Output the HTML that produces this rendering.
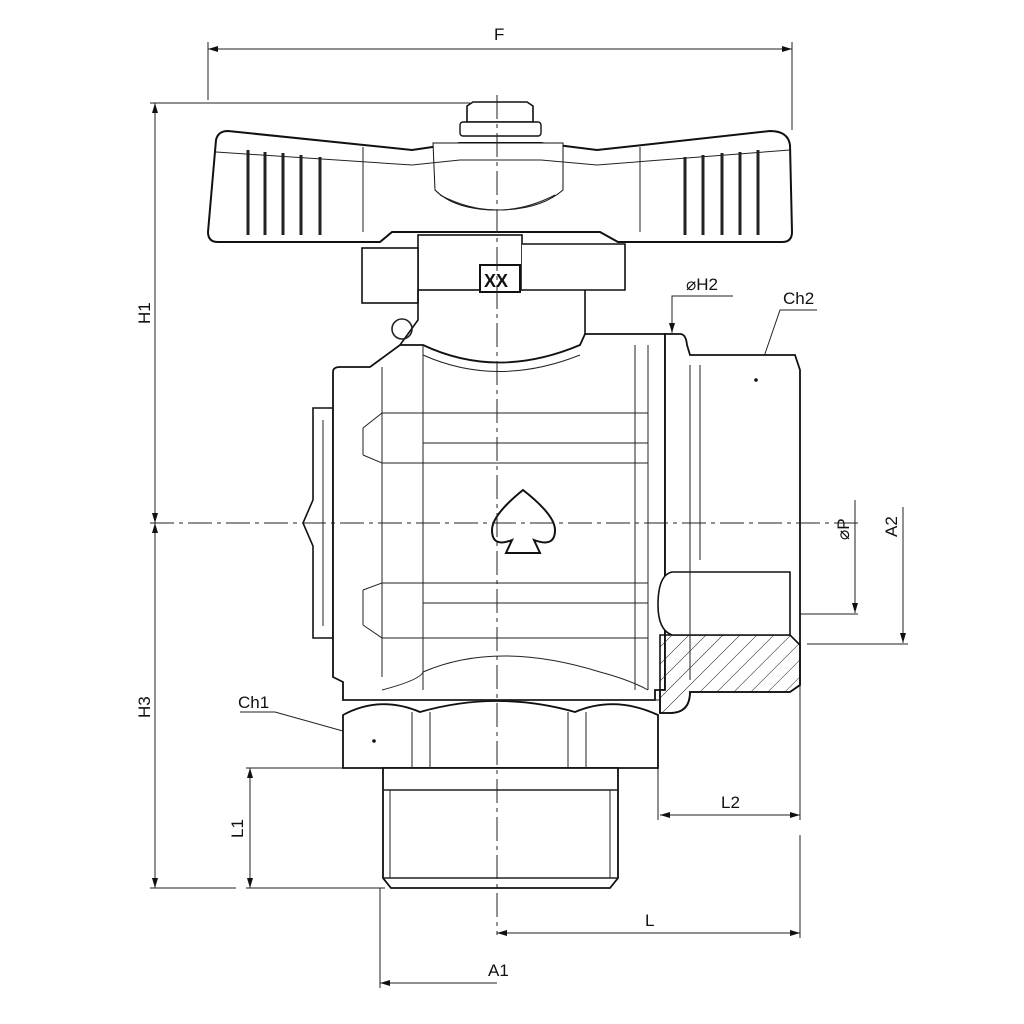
<!DOCTYPE html>
<html><head><meta charset="utf-8"><style>
html,body{margin:0;padding:0;background:#fff;}
svg{display:block;}
text{font-family:"Liberation Sans",sans-serif;font-size:17px;fill:#111;}
</style></head><body>
<svg width="1024" height="1024" viewBox="0 0 1024 1024" xmlns="http://www.w3.org/2000/svg">
<defs>
<marker id="a" viewBox="0 0 10 6" refX="10" refY="3" markerWidth="10" markerHeight="6" orient="auto-start-reverse" markerUnits="userSpaceOnUse"><path d="M0,0 L10,3 L0,6 z" fill="#111"/></marker>
<pattern id="h" width="12" height="12" patternUnits="userSpaceOnUse" patternTransform="rotate(45)"><line x1="0" y1="0" x2="0" y2="12" stroke="#222" stroke-width="1"/></pattern>
</defs>
<g stroke="#222" stroke-width="1" fill="none">
<line x1="208" y1="42" x2="208" y2="100"/><line x1="792" y1="42" x2="792" y2="130"/>
<line x1="208" y1="49" x2="792" y2="49" marker-start="url(#a)" marker-end="url(#a)"/>
<line x1="150" y1="103" x2="470" y2="103"/>
<line x1="155" y1="103" x2="155" y2="523" marker-start="url(#a)" marker-end="url(#a)"/>
<line x1="155" y1="523" x2="155" y2="888" marker-start="url(#a)" marker-end="url(#a)"/>
<line x1="150" y1="888" x2="236" y2="888"/>
<line x1="246" y1="768" x2="343" y2="768"/><line x1="246" y1="888" x2="385" y2="888"/>
<line x1="250" y1="768" x2="250" y2="888" marker-start="url(#a)" marker-end="url(#a)"/>
<line x1="380" y1="888" x2="380" y2="988"/>
<line x1="380" y1="983" x2="497" y2="983" marker-start="url(#a)"/>
<line x1="497" y1="933" x2="800" y2="933" marker-start="url(#a)" marker-end="url(#a)"/>
<line x1="800" y1="835" x2="800" y2="938"/>
<line x1="658" y1="768" x2="658" y2="820"/><line x1="800" y1="685" x2="800" y2="820"/>
<line x1="660" y1="815" x2="800" y2="815" marker-start="url(#a)" marker-end="url(#a)"/>
<line x1="855" y1="500" x2="855" y2="613" marker-end="url(#a)"/>
<line x1="800" y1="614" x2="858" y2="614"/>
<line x1="903" y1="507" x2="903" y2="643" marker-end="url(#a)"/>
<line x1="807" y1="644" x2="908" y2="644"/>
<polyline points="733,296 672,296 672,331"/><line x1="672" y1="320" x2="672" y2="333" marker-end="url(#a)"/>
<polyline points="817,310 780,310 756,380"/>
<polyline points="240,712 275,712 375,740"/>
</g>
<g stroke="#111" stroke-width="2" fill="#fff">
<path d="M216,140 Q218,131 228,131 L412,150 L460,143 L541,143 L597,150 L770,131 Q788,131 790,145 L792,232 Q792,242 782,242 L618,242 L600,232 L392,232 L380,242 L218,242 Q208,242 208,232 Z"/>
<path d="M467,106 L473,102 L527,102 L533,106 L533,122 L467,122 Z" stroke-width="1.6"/>
<rect x="460" y="122" width="81" height="14" rx="3" stroke-width="1.4"/>
<path d="M433,143 L563,143 L563,190 Q540,210 497,210 Q455,210 435,190 Z" stroke-width="1"/>
<rect x="418" y="235" width="104" height="55" stroke-width="1.6"/>
<path d="M522,244 L625,244 L625,290 L522,290" stroke-width="1.6"/>
<rect x="362" y="248" width="56" height="55" stroke-width="1.6"/>
<path d="M418,290 L418,320 L400,345 M585,290 L585,335" fill="none" stroke-width="1.6"/>
<rect x="480" y="265" width="40" height="27" stroke-width="2"/>
<path d="M333,408 L313,408 L313,500 L303,523 L313,546 L313,638 L333,638 Z" stroke-width="1.6"/>
<path d="M333,372 Q333,367 340,367 L370,367 L400,345 L423,345 Q497,380 580,345 L585,334 L665,334 L665,690 L655,690 L655,700 L343,700 L343,682 L333,677 Z" stroke-width="1.8"/>
<path d="M665,334 L680,334 Q686,334 687,345 L690,355 L795,355 L800,370 L800,685 L790,692 L690,692 Q690,713 670,713 L660,713 L660,690 L665,690 Z" stroke-width="1.8"/>
<path d="M660,635 L790,635 L800,645 L800,685 L790,692 L690,692 Q690,713 670,713 L660,713 Z" fill="url(#h)" stroke-width="1.6"/>
<path d="M672,572 L790,572 L790,635 L672,635 Q658,630 658,605 Q658,575 672,572 Z" stroke-width="1.6"/>
<path d="M343,715 Q380,695 420,712 Q497,690 575,712 Q615,695 658,715 L658,768 L343,768 Z" stroke-width="1.8"/>
<path d="M383,768 L618,768 L618,878 L610,888 L391,888 L383,878 Z" stroke-width="1.8"/>
</g>
<g stroke="#222" stroke-width="1" fill="none">
<line x1="383" y1="790" x2="618" y2="790" stroke-width="1.6"/><line x1="383" y1="878" x2="618" y2="878" stroke-width="1.6"/>
<line x1="390" y1="790" x2="390" y2="878"/><line x1="610" y1="790" x2="610" y2="878"/>
<line x1="412" y1="712" x2="412" y2="768"/><line x1="430" y1="712" x2="430" y2="768"/>
<line x1="568" y1="712" x2="568" y2="768"/><line x1="586" y1="712" x2="586" y2="768"/>
<path d="M343,700 L660,700"/>
<path d="M248,150 V235 M265,152 V235 M283,153 V235 M301,155 V235 M320,157 V235 M685,157 V235 M703,155 V235 M722,153 V235 M740,152 V235 M758,150 V235" stroke-width="3"/>
<path d="M216,152 L412,165 L460,160 L541,160 L597,165 L790,150" />
<path d="M363,147 V232 M640,147 V232 M440,195 Q497,225 555,195"/>
<path d="M382,367 V677 M423,345 V690 M648,345 V690 M635,345 V690"/>
<path d="M363,428 L382,413 L648,413 M363,455 L382,463 L648,463 M363,428 V455 M423,443 H648"/>
<path d="M363,590 L382,583 L648,583 M363,625 L382,638 L648,638 M363,590 V625 M423,603 H648"/>
<path d="M382,690 Q420,680 423,672 Q497,640 600,672 Q630,680 648,690"/>
<path d="M423,355 Q497,388 580,355"/>
<path d="M323,420 V626 M690,365 V680 M700,365 V560"/>
<circle cx="402" cy="329" r="10" stroke-width="1.6"/>
<path d="M523,490 Q492,515 492,530 Q492,548 512,540 L506,553 L540,553 L534,540 Q555,548 555,530 Q555,515 523,490 Z" stroke="#111" stroke-width="2"/>
<line x1="150" y1="523" x2="860" y2="523" stroke-dasharray="24,5,4,5"/>
<line x1="497" y1="95" x2="497" y2="935" stroke-dasharray="24,5,4,5"/>
</g>
<circle cx="756" cy="380" r="1.8" fill="#111"/>
<circle cx="374" cy="741" r="1.8" fill="#111"/>
<text x="484" y="287" style="font-size:18px;font-weight:bold">XX</text>
<text x="494" y="40">F</text>
<text x="150" y="324" transform="rotate(-90 150 324)">H1</text>
<text x="150" y="718" transform="rotate(-90 150 718)">H3</text>
<text x="243" y="838" transform="rotate(-90 243 838)">L1</text>
<text x="721" y="808">L2</text>
<text x="645" y="926">L</text>
<text x="488" y="976">A1</text>
<text x="238" y="708">Ch1</text>
<text x="783" y="304">Ch2</text>
<text x="686" y="290">⌀H2</text>
<text x="849" y="540" transform="rotate(-90 849 540)">⌀P</text>
<text x="897" y="537" transform="rotate(-90 897 537)">A2</text>
</svg>
</body></html>
